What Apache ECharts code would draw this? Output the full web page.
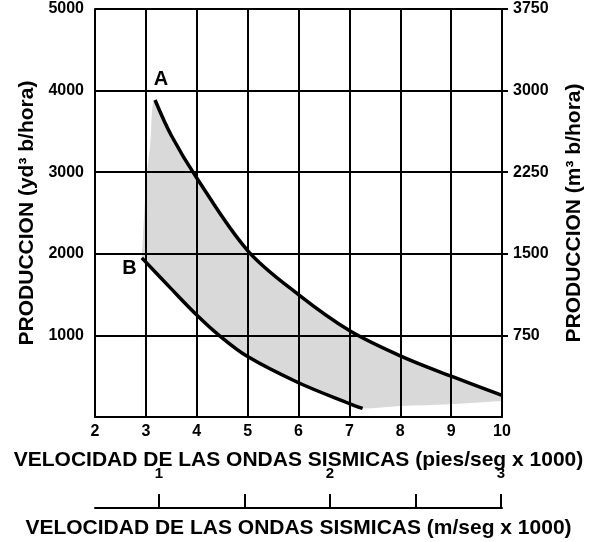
<!DOCTYPE html>
<html>
<head>
<meta charset="utf-8">
<script src="https://cdn.jsdelivr.net/npm/echarts@6/dist/echarts.min.js"></script>
<style>
html,body{margin:0;padding:0;background:#fff;}
#chart{width:602px;height:542px;}
</style>
</head>
<body>
<div id="chart"></div>
<script>
// Curve A (upper limit)
const aX = [3.18, 3.5, 4, 5, 6, 7, 8, 9, 10];
const aY = [3885, 3450, 2930, 2040, 1500, 1060, 750, 500, 265];
// Curve B (lower limit)
const bX = [2.92, 3.5, 4, 4.44, 5, 6, 7, 7.26];
const bY = [1950, 1570, 1250, 1000, 740, 420, 165, 105];
// Shaded region: left edge (rising to A's start) and floor (after B ends)
const shadeLeftX = [2.92, 2.95, 3.02, 3.08];
const shadeLeftY = [1950, 2300, 3000, 3300];
const shadeFloorX = [8, 9, 10];
const shadeFloorY = [135, 157, 196];
// Curve labels
const curveNames = ['A', 'B'];
// Axis ticks
const leftTicks = [1000, 2000, 3000, 4000, 5000];
const rightTicks = [750, 1500, 2250, 3000, 3750];
const metricTicks = [1, 1.5, 2, 2.5, 3];
const metricLabels = [1, 2, 3];
const xTitle = 'VELOCIDAD DE LAS ONDAS SISMICAS (pies/seg x 1000)';
const x2Title = 'VELOCIDAD DE LAS ONDAS SISMICAS (m/seg x 1000)';
const yTitle = 'PRODUCCION (yd³ b/hora)';
const y2Title = 'PRODUCCION (m³ b/hora)';

const zip = (xs, ys) => xs.map((x, i) => [x, ys[i]]);
const FONT = '"Liberation Sans", Arial, Helvetica, sans-serif';
const lineBlack = {color: '#000', width: 2};
const plain = v => String(v);
const SM = 0.35;

const chart = echarts.init(document.getElementById('chart'), null, {renderer: 'canvas'});
const option = {
  animation: false,
  backgroundColor: '#fff',
  textStyle: {fontFamily: FONT},
  grid: [
    {left: 95, right: 100, top: 9, bottom: 125, containLabel: false},
    {left: 95, right: 100, top: 420, bottom: 34, containLabel: false}
  ],
  xAxis: [{
    type: 'value', gridIndex: 0, min: 2, max: 10, interval: 1, z: 3,
    position: 'bottom',
    axisLine: {show: true, lineStyle: lineBlack},
    axisTick: {show: false},
    splitLine: {show: true, lineStyle: lineBlack},
    axisLabel: {color: '#000', fontSize: 16, fontWeight: 'bold', fontFamily: FONT, margin: 7, formatter: plain},
    name: xTitle, nameLocation: 'middle', nameGap: 33,
    nameTextStyle: {color: '#000', fontSize: 21, fontWeight: 'bold', fontFamily: FONT}
  }, {
    type: 'value', gridIndex: 1, min: 0.626, max: 3.006, z: 3,
    position: 'bottom',
    axisLine: {show: true, lineStyle: lineBlack},
    axisTick: {show: true, inside: true, length: 14, lineStyle: lineBlack, customValues: metricTicks},
    splitLine: {show: false},
    axisLabel: {show: true, inside: true, customValues: metricLabels, margin: 27, formatter: plain,
      color: '#000', fontSize: 15, fontWeight: 'bold', fontFamily: FONT},
    name: x2Title, nameLocation: 'middle', nameGap: 10,
    nameTextStyle: {color: '#000', fontSize: 21, fontWeight: 'bold', fontFamily: FONT}
  }],
  yAxis: [{
    type: 'value', gridIndex: 0, min: 0, max: 5000, interval: 1000, z: 3,
    position: 'left',
    axisLine: {show: true, lineStyle: lineBlack},
    axisTick: {show: false},
    splitLine: {show: true, lineStyle: lineBlack},
    axisLabel: {color: '#000', fontSize: 16, fontWeight: 'bold', fontFamily: FONT, margin: 11,
      customValues: leftTicks, formatter: plain},
    name: yTitle, nameLocation: 'middle', nameGap: 49,
    nameTextStyle: {color: '#000', fontSize: 21, fontWeight: 'bold', fontFamily: FONT}
  }, {
    type: 'value', gridIndex: 0, min: 0, max: 3750, interval: 750, z: 3,
    position: 'right',
    axisLine: {show: true, lineStyle: lineBlack},
    axisTick: {show: true, length: 6, lineStyle: lineBlack, customValues: rightTicks},
    splitLine: {show: false},
    axisLabel: {color: '#000', fontSize: 16, fontWeight: 'bold', fontFamily: FONT, margin: 11,
      customValues: rightTicks, formatter: plain},
    name: y2Title, nameLocation: 'middle', nameGap: 62,
    nameTextStyle: {color: '#000', fontSize: 21, fontWeight: 'bold', fontFamily: FONT}
  }, {
    type: 'value', gridIndex: 1, show: false, min: 0, max: 1
  }],
  series: [{
    name: 'shadeTop', type: 'line', z: 1, silent: true,
    data: zip(shadeLeftX.concat(aX), shadeLeftY.concat(aY)),
    smooth: SM, showSymbol: false,
    lineStyle: {width: 0, opacity: 0},
    areaStyle: {color: '#d9d9d9', opacity: 1}
  }, {
    name: 'shadeBottom', type: 'line', z: 2, silent: true,
    data: zip(bX.concat(shadeFloorX), bY.concat(shadeFloorY)),
    smooth: SM, showSymbol: false,
    lineStyle: {width: 0, opacity: 0},
    areaStyle: {color: '#ffffff', opacity: 1}
  }, {
    name: 'A', type: 'line', z: 5, silent: true,
    data: zip(aX, aY), smooth: SM, showSymbol: false,
    lineStyle: {color: '#000', width: 3.5, cap: 'butt'}
  }, {
    name: 'B', type: 'line', z: 5, silent: true,
    data: zip(bX, bY), smooth: SM, showSymbol: false,
    lineStyle: {color: '#000', width: 3.5, cap: 'butt'}
  }, {
    name: 'labels', type: 'scatter', z: 6, silent: true,
    symbolSize: 0,
    itemStyle: {opacity: 1},
    data: [
      {value: [aX[0], aY[0]], name: curveNames[0],
        label: {show: true, position: 'top', distance: 5, offset: [6, -5]}},
      {value: [bX[0], bY[0]], name: curveNames[1],
        label: {show: true, position: 'left', distance: 4, offset: [-1, 11]}}
    ],
    label: {formatter: '{b}', color: '#000', opacity: 1, fontSize: 20, fontWeight: 'bold', fontFamily: FONT}
  }]
};
chart.setOption(option);
</script>
</body>
</html>
